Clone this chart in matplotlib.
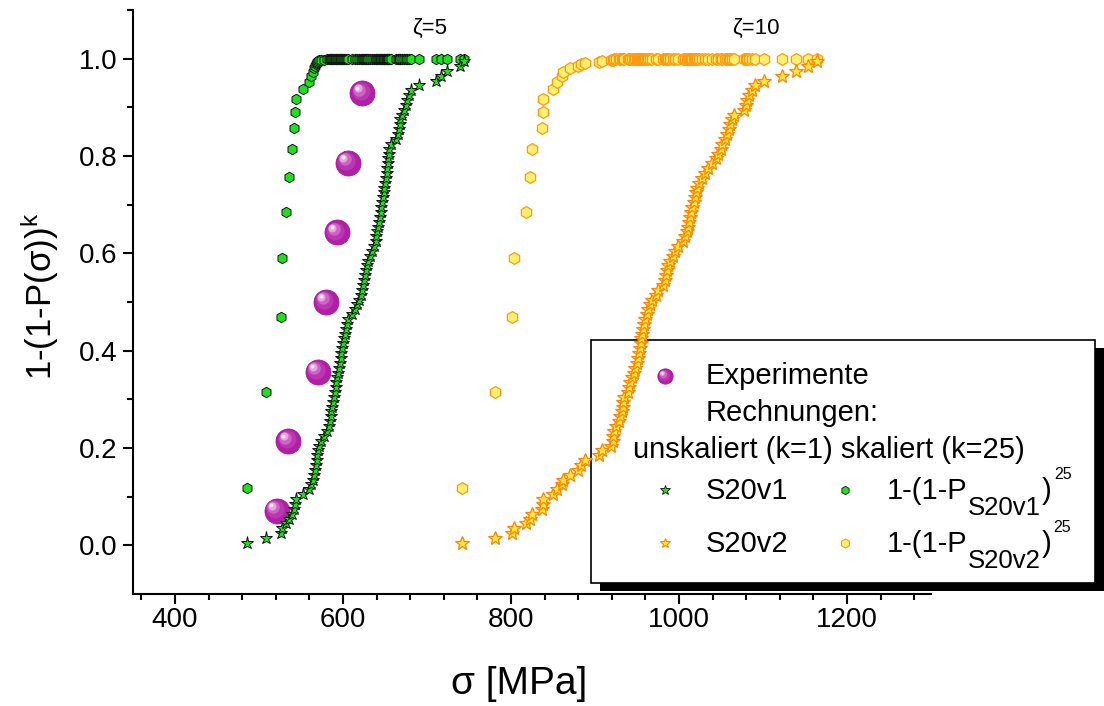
import matplotlib
matplotlib.use("Agg")
import matplotlib.pyplot as plt
from matplotlib.transforms import offset_copy
from matplotlib.patches import Rectangle
from matplotlib.ticker import FixedLocator, MultipleLocator
from matplotlib import font_manager

# ---------------- data ----------------
sigma_exp = [521, 535, 570, 580, 593, 606, 623]
P_exp = [0.071, 0.214, 0.357, 0.500, 0.643, 0.786, 0.929]

P_k1 = [0.005, 0.015, 0.025, 0.035, 0.045, 0.055, 0.065, 0.075, 0.085, 0.095,
        0.105, 0.115, 0.125, 0.135, 0.145, 0.155, 0.165, 0.175, 0.185, 0.195,
        0.205, 0.215, 0.225, 0.235, 0.245, 0.255, 0.265, 0.275, 0.285, 0.295,
        0.305, 0.315, 0.325, 0.335, 0.345, 0.355, 0.365, 0.375, 0.385, 0.395,
        0.405, 0.415, 0.425, 0.435, 0.445, 0.455, 0.465, 0.475, 0.485, 0.495,
        0.505, 0.515, 0.525, 0.535, 0.545, 0.555, 0.565, 0.575, 0.585, 0.595,
        0.605, 0.615, 0.625, 0.635, 0.645, 0.655, 0.665, 0.675, 0.685, 0.695,
        0.705, 0.715, 0.725, 0.735, 0.745, 0.755, 0.765, 0.775, 0.785, 0.795,
        0.805, 0.815, 0.825, 0.835, 0.845, 0.855, 0.865, 0.875, 0.885, 0.895,
        0.905, 0.915, 0.925, 0.935, 0.945, 0.955, 0.965, 0.975, 0.985, 0.995]

P_k25 = [0.118, 0.315, 0.469, 0.590, 0.684, 0.757, 0.814, 0.858, 0.891, 0.918,
         0.938, 0.953, 0.964, 0.973, 0.980, 0.985, 0.989, 0.992, 0.994, 0.996,
         0.997, 0.998, 0.998, 0.999, 0.999, 0.999, 1.000, 1.000, 1.000, 1.000,
         1.000, 1.000, 1.000, 1.000, 1.000, 1.000, 1.000, 1.000, 1.000, 1.000,
         1.000, 1.000, 1.000, 1.000, 1.000, 1.000, 1.000, 1.000, 1.000, 1.000,
         1.000, 1.000, 1.000, 1.000, 1.000, 1.000, 1.000, 1.000, 1.000, 1.000,
         1.000, 1.000, 1.000, 1.000, 1.000, 1.000, 1.000, 1.000, 1.000, 1.000,
         1.000, 1.000, 1.000, 1.000, 1.000, 1.000, 1.000, 1.000, 1.000, 1.000,
         1.000, 1.000, 1.000, 1.000, 1.000, 1.000, 1.000, 1.000, 1.000, 1.000,
         1.000, 1.000, 1.000, 1.000, 1.000, 1.000, 1.000, 1.000, 1.000, 1.000]

sigma_S20v1 = [485.8, 508.4, 526.3, 527.5, 532.2, 535.8, 539.4, 541.2, 542.6, 544.1,
               552.5, 559.6, 562.0, 564.4, 565.6, 566.8, 568.0, 568.6, 569.2, 570.3,
               571.5, 573.9, 577.5, 581.1, 583.4, 584.6, 585.5, 586.2, 587.0, 588.2,
               589.4, 590.6, 591.4, 592.1, 593.0, 594.2, 595.4, 596.2, 597.1, 598.1,
               598.9, 599.9, 601.0, 601.9, 603.1, 604.3, 606.1, 610.8, 614.4, 616.8,
               619.2, 621.6, 623.1, 623.9, 624.8, 625.7, 627.5, 628.7, 629.9, 631.7,
               634.7, 637.1, 638.8, 639.8, 640.6, 641.8, 643.0, 643.8, 644.8, 645.4,
               646.6, 647.2, 648.4, 649.3, 650.4, 651.1, 651.8, 652.3, 653.3, 653.7,
               654.4, 655.2, 656.7, 663.3, 665.6, 666.8, 667.3, 667.8, 670.4, 672.8,
               675.2, 676.4, 678.7, 681.1, 690.7, 710.9, 716.9, 724.0, 739.5, 744.3]

sigma_S20v2 = [741.9, 781.2, 801.4, 803.8, 818.1, 822.9, 825.3, 836.6, 837.8, 838.4,
               850.3, 855.0, 861.0, 862.2, 870.5, 880.1, 883.0, 888.4, 905.1, 908.6,
               919.4, 920.9, 921.7, 922.9, 924.9, 928.9, 930.1, 931.6, 932.8, 933.6,
               934.8, 938.8, 940.2, 942.0, 944.4, 946.2, 948.0, 949.7, 950.9, 952.1,
               953.3, 954.5, 955.1, 956.3, 957.1, 958.1, 959.5, 961.4, 963.4, 965.2,
               967.6, 973.0, 975.4, 981.3, 983.7, 984.5, 985.7, 987.3, 989.7, 992.4,
               995.6, 999.2, 1005.1, 1007.5, 1009.1, 1010.3, 1011.9, 1013.2, 1014.4, 1015.9,
               1017.6, 1018.8, 1020.3, 1021.2, 1024.2, 1027.2, 1030.7, 1034.3, 1039.7, 1043.8,
               1046.8, 1049.8, 1051.0, 1055.2, 1057.5, 1059.6, 1060.5, 1062.9, 1065.9, 1077.8,
               1079.6, 1081.4, 1083.8, 1087.4, 1090.3, 1101.6, 1123.1, 1139.8, 1154.1, 1164.8]

x_ticks = [400, 600, 800, 1000, 1200]
y_ticks = [0.0, 0.2, 0.4, 0.6, 0.8, 1.0]
zeta_labels = ["\u03b6=5", "\u03b6=10"]
zeta_pos = [(703, 1.062), (1092, 1.062)]

# ---------------- style ----------------
plt.rcParams["font.family"] = ["Liberation Sans", "DejaVu Sans"]
plt.rcParams["mathtext.fontset"] = "custom"
plt.rcParams["mathtext.rm"] = "Liberation Sans"
plt.rcParams["mathtext.it"] = "Liberation Sans:italic"
plt.rcParams["mathtext.bf"] = "Liberation Sans:bold"

names = {f.name for f in font_manager.fontManager.ttflist}
narrow = "Liberation Sans Narrow" if "Liberation Sans Narrow" in names else "Liberation Sans"

GREEN = "#1EE11E"
STAR_Y = "#FFE640"
STAR_E = "#FF8400"
HEX_Y = "#FFF070"
HEX_E = "#FF9A10"

fig = plt.figure(figsize=(11.04, 7.06), dpi=100)
fig.patch.set_facecolor("white")

# background axes in pixel coordinates for the framed legend (drawn below data)
bg = fig.add_axes([0, 0, 1, 1], zorder=-1)
bg.set_xlim(0, 1104)
bg.set_ylim(706, 0)
bg.axis("off")

ax = fig.add_axes([133 / 1104, 1 - 594 / 706, (931 - 133) / 1104, (594 - 10) / 706], zorder=0)
ax.patch.set_visible(False)


def draw_ball(axis, x, y, ms, z):
    axis.plot(x, y, ls="none", marker="o", ms=ms, mfc="#B21FA7", mec="#A51A9A",
              mew=0.6, zorder=z)
    layers = [(0.72, -0.07, "#BC36B1"), (0.5, -0.14, "#CC64C2"),
              (0.32, -0.19, "#E3A6DD"), (0.16, -0.22, "#FBEFFA")]
    for frac, d, col in layers:
        tr = offset_copy(axis.transData, fig=fig, x=d * ms, y=-d * ms, units="points")
        axis.plot(x, y, ls="none", marker="o", ms=ms * frac, mfc=col, mec="none",
                  transform=tr, zorder=z + 0.1)


# data
draw_ball(ax, sigma_exp, P_exp, 18, 2)
ax.plot(sigma_S20v1, P_k25, ls="none", marker="h", ms=7.5, mfc=GREEN, mec="#111111",
        mew=0.7, zorder=3)
ax.plot(sigma_S20v1, P_k1, ls="none", marker="*", ms=9.5, mfc=GREEN, mec="#111111",
        mew=0.7, zorder=4)
ax.plot(sigma_S20v2, P_k25, ls="none", marker="h", ms=8.5, mfc=HEX_Y, mec=HEX_E,
        mew=0.9, zorder=3)
ax.plot(sigma_S20v2, P_k1, ls="none", marker="*", ms=10.5, mfc=STAR_Y, mec=STAR_E,
        mew=0.9, zorder=4)

for lab, (xx, yy) in zip(zeta_labels, zeta_pos):
    ax.text(xx, yy, lab, ha="center", va="center", fontsize=16)

# axes formatting
ax.set_xlim(350, 1300)
ax.set_ylim(-0.1, 1.1)
for s in ["top", "right"]:
    ax.spines[s].set_visible(False)
for s in ["left", "bottom"]:
    ax.spines[s].set_linewidth(1.5)
ax.set_xticks(x_ticks)
ax.set_xticklabels([str(v) for v in x_ticks], family=[narrow, "DejaVu Sans"], fontsize=20)
ax.xaxis.set_minor_locator(MultipleLocator(40))
ax.set_yticks(y_ticks)
ax.set_yticklabels([f"{v:.1f}" for v in y_ticks], fontsize=20)
ax.yaxis.set_minor_locator(FixedLocator([0.1, 0.3, 0.5, 0.7, 0.9, 1.1]))
ax.tick_params(which="major", direction="out", length=7, width=1.5, pad=4)
ax.tick_params(axis="x", which="major", pad=2.5)
ax.tick_params(which="minor", direction="out", length=4, width=1.5)

ax.set_xlabel("\u03c3 [MPa]", fontsize=28, family=[narrow, "DejaVu Sans"])
ax.xaxis.set_label_coords((519 - 133) / 798, (594 - 666) / 584)
ax.set_ylabel("1-(1-P(\u03c3))$^{\\mathregular{k}}$", fontsize=25)
ax.yaxis.set_label_coords((61 - 133) / 798, 0.51)

# legend box with shadow
bg.add_patch(Rectangle((600, 348), 1095 - 591, 583 - 340, facecolor="black",
                       edgecolor="none", zorder=1))
bg.add_patch(Rectangle((591, 340), 1095 - 591, 583 - 340, facecolor="white",
                       edgecolor="black", lw=1.2, zorder=2))
draw_ball(bg, [665], [376], 11, 3)
bg.plot([665], [489.5], ls="none", marker="*", ms=7, mfc=GREEN, mec="#111111", mew=0.6, zorder=3)
bg.plot([845], [489.5], ls="none", marker="h", ms=6, mfc=GREEN, mec="#111111", mew=0.6, zorder=3)
bg.plot([665], [543], ls="none", marker="*", ms=7.5, mfc=STAR_Y, mec=STAR_E, mew=0.8, zorder=3)
bg.plot([845], [543], ls="none", marker="h", ms=6.5, mfc=HEX_Y, mec=HEX_E, mew=0.8, zorder=3)

legend_texts = [
    (706, 384, "Experimente"),
    (706, 421, "Rechnungen:"),
    (633, 458, "unskaliert (k=1) skaliert (k=25)"),
    (706, 499, "S20v1"),
    (706, 552, "S20v2"),
]
for xx, yy, t in legend_texts:
    bg.text(xx, yy, t, ha="left", va="baseline", fontsize=21, zorder=4)

# composite labels 1-(1-P_{S20vX})^{25} with large subscript and small superscript
for yy, sub in [(499, "S20v1"), (552, "S20v2")]:
    t1 = bg.text(887, yy, "1-(1-P", ha="left", va="baseline", fontsize=21, zorder=4)
    t2 = bg.annotate(sub, xy=(1, 0.33), xycoords=t1, xytext=(0.5, 0),
                     textcoords="offset points", ha="left", va="top", fontsize=18.5, zorder=4)
    t3 = bg.annotate(")", xy=(1, 0), xycoords=(t2, t1), xytext=(0.5, 0),
                     textcoords="offset points", ha="left", va="bottom", fontsize=21, zorder=4)
    bg.annotate("25", xy=(1, 1), xycoords=t3, xytext=(1.5, 2),
                textcoords="offset points", ha="left", va="center", fontsize=11.5, zorder=4)

fig.savefig("out.png", dpi=100, facecolor="white")
